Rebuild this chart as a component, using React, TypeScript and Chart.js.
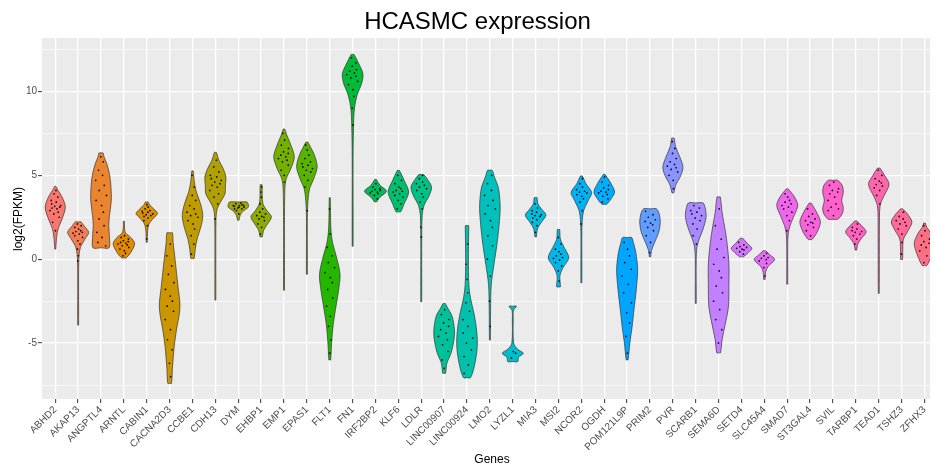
import React, { useEffect, useRef } from 'react';
import { Chart, registerables } from 'chart.js';

Chart.register(...registerables);

// ---------------- data ----------------
const genes = [
  'ABHD2', 'AKAP13', 'ANGPTL4', 'ARNTL', 'CABIN1', 'CACNA2D3', 'CCBE1', 'CDH13', 'DYM', 'EHBP1',
  'EMP1', 'EPAS1', 'FLT1', 'FN1', 'IRF2BP2', 'KLF6', 'LDLR', 'LINC00907', 'LINC00924', 'LMO2',
  'LYZL1', 'MIA3', 'MSI2', 'NCOR2', 'OGDH', 'POM121L9P', 'PRIM2', 'PVR', 'SCARB1', 'SEMA6D',
  'SETD4', 'SLC45A4', 'SMAD7', 'ST3GAL4', 'SVIL', 'TARBP1', 'TEAD1', 'TSHZ3', 'ZFHX3',
];

// violin outline per gene: [log2(FPKM) level, half-width in category units], bottom to top
const violinShapes: number[][][] = [
  [[0.6, 0.02], [1.2, 0.05], [1.8, 0.12], [2.4, 0.3], [3.1, 0.44], [3.7, 0.3], [4.1, 0.12], [4.35, 0.02]],
  [[-3.93, 0.02], [-2, 0.02], [0, 0.03], [0.7, 0.1], [1.2, 0.3], [1.6, 0.46], [2.0, 0.25], [2.22, 0.13]],
  [[0.68, 0.35], [1.3, 0.37], [2.0, 0.34], [2.6, 0.37], [3.5, 0.45], [4.2, 0.44], [5.0, 0.38], [5.7, 0.25], [6.1, 0.13], [6.33, 0.09]],
  [[0.08, 0.1], [0.4, 0.3], [0.93, 0.47], [1.3, 0.3], [1.55, 0.08], [1.8, 0.03], [2.26, 0.02]],
  [[1.0, 0.02], [1.7, 0.04], [2.1, 0.1], [2.45, 0.3], [2.72, 0.47], [3.0, 0.3], [3.25, 0.12], [3.41, 0.06]],
  [[-7.4, 0.08], [-6.5, 0.12], [-5.2, 0.2], [-4.2, 0.3], [-3.2, 0.43], [-2.6, 0.45], [-1.8, 0.38], [-0.8, 0.3], [0.2, 0.22], [1.0, 0.15], [1.57, 0.12]],
  [[0.04, 0.07], [0.6, 0.12], [1.2, 0.2], [1.9, 0.36], [2.6, 0.45], [3.3, 0.35], [4.0, 0.17], [4.6, 0.08], [5.26, 0.03]],
  [[-2.44, 0.02], [0, 0.02], [2.5, 0.03], [3.0, 0.08], [3.4, 0.22], [3.9, 0.42], [4.4, 0.44], [4.9, 0.46], [5.4, 0.34], [5.9, 0.15], [6.37, 0.04]],
  [[2.32, 0.03], [2.6, 0.08], [2.85, 0.2], [3.1, 0.44], [3.3, 0.43], [3.41, 0.38]],
  [[1.33, 0.05], [1.7, 0.1], [2.1, 0.28], [2.52, 0.45], [2.9, 0.25], [3.3, 0.08], [3.8, 0.05], [4.44, 0.04]],
  [[-1.85, 0.02], [2, 0.02], [4.3, 0.04], [4.8, 0.1], [5.4, 0.3], [6.1, 0.45], [6.8, 0.3], [7.4, 0.12], [7.76, 0.03]],
  [[-0.9, 0.02], [2.5, 0.02], [3.5, 0.05], [4.2, 0.12], [4.8, 0.3], [5.5, 0.45], [6.2, 0.33], [6.7, 0.15], [6.98, 0.04]],
  [[-6.0, 0.04], [-5.0, 0.08], [-3.9, 0.15], [-3.0, 0.25], [-1.9, 0.38], [-0.9, 0.45], [0.2, 0.28], [1.0, 0.12], [1.8, 0.05], [3.0, 0.03], [3.67, 0.02]],
  [[0.77, 0.02], [6, 0.02], [8.0, 0.04], [9.0, 0.08], [9.8, 0.2], [10.5, 0.4], [11.05, 0.45], [11.7, 0.25], [12.2, 0.06]],
  [[3.41, 0.04], [3.7, 0.2], [4.05, 0.48], [4.4, 0.2], [4.76, 0.03]],
  [[2.82, 0.1], [3.3, 0.25], [4.0, 0.45], [4.7, 0.25], [5.3, 0.04]],
  [[-2.54, 0.02], [1, 0.02], [2.6, 0.04], [3.2, 0.12], [3.8, 0.35], [4.3, 0.45], [4.8, 0.25], [5.04, 0.1]],
  [[-6.8, 0.06], [-6.2, 0.12], [-5.6, 0.3], [-4.8, 0.43], [-4.2, 0.45], [-3.4, 0.35], [-2.9, 0.15], [-2.64, 0.05]],
  [[-7.06, 0.15], [-6.5, 0.3], [-5.5, 0.43], [-4.8, 0.45], [-4.0, 0.4], [-3.2, 0.3], [-2.3, 0.15], [-1.5, 0.08], [0, 0.06], [1.5, 0.07], [2.0, 0.07]],
  [[-4.82, 0.02], [-3, 0.03], [-1.5, 0.06], [-0.3, 0.18], [0.8, 0.3], [2.0, 0.4], [3.1, 0.45], [4.2, 0.38], [4.9, 0.2], [5.3, 0.1]],
  [[-6.1, 0.22], [-5.85, 0.25], [-5.6, 0.46], [-5.35, 0.2], [-5.0, 0.04], [-3.5, 0.02], [-3.05, 0.03], [-2.8, 0.16]],
  [[1.33, 0.03], [1.8, 0.08], [2.2, 0.25], [2.62, 0.45], [3.0, 0.25], [3.3, 0.1], [3.67, 0.06]],
  [[-1.65, 0.08], [-1.0, 0.06], [-0.5, 0.2], [0.08, 0.45], [0.7, 0.25], [1.2, 0.08], [1.77, 0.05]],
  [[-1.41, 0.02], [1.5, 0.02], [2.3, 0.04], [2.9, 0.1], [3.5, 0.3], [3.97, 0.45], [4.5, 0.2], [4.96, 0.04]],
  [[3.27, 0.1], [3.6, 0.3], [4.0, 0.45], [4.5, 0.3], [5.06, 0.03]],
  [[-6.0, 0.04], [-5.0, 0.12], [-4.0, 0.22], [-3.0, 0.3], [-1.8, 0.4], [-0.6, 0.46], [0.4, 0.38], [1.0, 0.27], [1.29, 0.2]],
  [[0.14, 0.03], [0.5, 0.06], [1.0, 0.2], [1.6, 0.38], [2.2, 0.45], [2.7, 0.4], [3.0, 0.28]],
  [[3.95, 0.04], [4.4, 0.12], [5.0, 0.35], [5.5, 0.44], [6.1, 0.3], [6.7, 0.12], [7.22, 0.05]],
  [[-2.64, 0.02], [0, 0.02], [0.7, 0.05], [1.2, 0.15], [1.8, 0.32], [2.5, 0.45], [3.0, 0.42], [3.35, 0.32]],
  [[-5.58, 0.08], [-4.8, 0.15], [-3.8, 0.3], [-2.8, 0.43], [-1.5, 0.45], [-0.3, 0.45], [0.8, 0.38], [1.7, 0.29], [2.8, 0.15], [3.71, 0.07]],
  [[0.14, 0.08], [0.4, 0.3], [0.64, 0.45], [0.95, 0.25], [1.25, 0.05]],
  [[-1.21, 0.03], [-0.8, 0.05], [-0.45, 0.15], [-0.02, 0.45], [0.25, 0.25], [0.5, 0.05]],
  [[-1.49, 0.02], [0.5, 0.02], [1.5, 0.04], [2.0, 0.12], [2.6, 0.3], [3.21, 0.46], [3.7, 0.32], [4.19, 0.04]],
  [[1.17, 0.08], [1.6, 0.3], [2.22, 0.45], [2.8, 0.28], [3.35, 0.04]],
  [[2.38, 0.2], [2.7, 0.4], [3.05, 0.45], [3.5, 0.38], [4.0, 0.45], [4.4, 0.4], [4.7, 0.2]],
  [[0.54, 0.03], [0.9, 0.08], [1.25, 0.25], [1.63, 0.45], [2.0, 0.25], [2.28, 0.04]],
  [[-2.04, 0.02], [2.5, 0.03], [3.2, 0.06], [3.7, 0.2], [4.46, 0.45], [5.0, 0.25], [5.43, 0.05]],
  [[-0.02, 0.04], [0.6, 0.05], [1.2, 0.08], [1.7, 0.28], [2.22, 0.45], [2.7, 0.25], [3.0, 0.04]],
  [[-0.38, 0.1], [0.2, 0.3], [0.93, 0.45], [1.5, 0.3], [1.9, 0.1], [2.16, 0.03]],
];

// individual samples per gene (log2 FPKM)
const sampleValues: number[][] = [
  [1.7, 2.2, 2.5, 2.7, 2.8, 2.9, 3.0, 3.05, 3.1, 3.15, 3.2, 3.3, 3.4, 3.5, 3.7, 3.9, 4.1],
  [-0.1, 0.2, 0.6, 0.9, 1.1, 1.3, 1.4, 1.5, 1.55, 1.6, 1.65, 1.7, 1.8, 1.9, 2.0, 2.1],
  [0.8, 1.0, 1.3, 1.6, 2.0, 2.4, 2.8, 3.2, 3.5, 3.8, 4.1, 4.4, 4.7, 5.0, 5.3, 5.8, 6.1],
  [0.2, 0.35, 0.5, 0.6, 0.7, 0.8, 0.85, 0.9, 0.95, 1.0, 1.05, 1.1, 1.2, 1.3, 1.4],
  [1.2, 2.0, 2.3, 2.45, 2.55, 2.6, 2.65, 2.7, 2.75, 2.8, 2.85, 2.9, 3.0, 3.1, 3.25],
  [-7.0, -6.2, -5.4, -4.8, -4.2, -3.6, -3.1, -2.8, -2.5, -2.2, -1.8, -1.4, -0.9, -0.4, 0.2, 0.9],
  [0.3, 0.9, 1.4, 1.8, 2.1, 2.3, 2.5, 2.6, 2.7, 2.8, 3.0, 3.2, 3.5, 3.8, 4.3, 5.0],
  [2.4, 3.3, 3.7, 3.9, 4.1, 4.3, 4.4, 4.5, 4.6, 4.7, 4.8, 4.9, 5.0, 5.2, 5.5, 5.9],
  [2.7, 2.9, 3.0, 3.05, 3.1, 3.15, 3.2, 3.2, 3.25, 3.3, 3.35, 3.1, 3.0, 3.2],
  [1.5, 1.9, 2.1, 2.3, 2.4, 2.5, 2.55, 2.6, 2.7, 2.8, 3.0, 3.3, 3.7, 4.0, 4.3],
  [4.6, 5.0, 5.3, 5.6, 5.8, 5.9, 6.0, 6.1, 6.2, 6.3, 6.4, 6.6, 6.8, 7.1, 7.5],
  [2.9, 4.3, 4.7, 5.0, 5.2, 5.3, 5.4, 5.5, 5.6, 5.7, 5.8, 6.0, 6.2, 6.5, 6.8],
  [-5.6, -4.8, -4.0, -3.4, -2.8, -2.3, -1.8, -1.4, -1.1, -0.8, -0.5, -0.2, 0.2, 0.7, 1.5, 3.0],
  [8.0, 9.0, 9.7, 10.1, 10.4, 10.6, 10.8, 10.9, 11.0, 11.1, 11.2, 11.3, 11.5, 11.7, 12.0],
  [3.6, 3.8, 3.9, 3.95, 4.0, 4.05, 4.1, 4.15, 4.2, 4.3, 4.5],
  [3.0, 3.3, 3.5, 3.7, 3.8, 3.9, 4.0, 4.05, 4.1, 4.2, 4.3, 4.5, 4.7, 5.0],
  [1.33, 1.9, 3.0, 3.4, 3.7, 3.9, 4.1, 4.2, 4.3, 4.4, 4.5, 4.6, 4.8, 5.0],
  [-6.5, -6.0, -5.5, -5.1, -4.8, -4.6, -4.4, -4.2, -4.0, -3.8, -3.6, -3.3, -3.0],
  [-6.8, -6.3, -5.8, -5.4, -5.0, -4.7, -4.4, -4.0, -3.6, -3.1, -2.6, -2.0, -1.2, -0.3, 0.9],
  [-4.0, -2.5, -1.0, 0.0, 0.8, 1.4, 1.9, 2.3, 2.7, 3.0, 3.2, 3.5, 3.8, 4.1, 4.5, 5.0],
  [-5.9, -5.6, -5.5],
  [1.6, 2.0, 2.2, 2.35, 2.45, 2.55, 2.6, 2.65, 2.7, 2.8, 2.9, 3.05, 3.3],
  [-1.3, -0.7, -0.4, -0.2, -0.05, 0.05, 0.1, 0.2, 0.3, 0.45, 0.6, 0.9, 1.3],
  [2.1, 2.9, 3.4, 3.6, 3.75, 3.85, 3.95, 4.0, 4.05, 4.15, 4.3, 4.5, 4.8],
  [3.4, 3.6, 3.75, 3.85, 3.95, 4.0, 4.05, 4.15, 4.25, 4.4, 4.6, 4.9],
  [-5.6, -4.6, -3.8, -3.2, -2.6, -2.0, -1.5, -1.0, -0.6, -0.2, 0.2, 0.6, 1.0],
  [0.4, 1.0, 1.4, 1.7, 1.9, 2.05, 2.15, 2.25, 2.35, 2.5, 2.65, 2.85],
  [4.2, 4.7, 5.0, 5.2, 5.35, 5.45, 5.55, 5.65, 5.8, 6.0, 6.3, 6.6, 7.0],
  [0.9, 1.4, 1.8, 2.1, 2.3, 2.45, 2.6, 2.7, 2.8, 2.9, 3.05, 3.2],
  [-5.0, -4.2, -3.6, -3.0, -2.5, -2.0, -1.6, -1.1, -0.7, -0.3, 0.1, 0.6, 1.2, 2.0, 3.0],
  [0.3, 0.45, 0.55, 0.6, 0.65, 0.7, 0.75, 0.85, 1.0],
  [-1.0, -0.5, -0.25, -0.1, -0.02, 0.05, 0.1, 0.2, 0.35],
  [1.7, 2.3, 2.6, 2.8, 3.0, 3.1, 3.2, 3.3, 3.4, 3.5, 3.7, 3.9],
  [1.4, 1.7, 1.9, 2.05, 2.15, 2.2, 2.3, 2.4, 2.55, 2.7, 3.0],
  [2.6, 2.9, 3.0, 3.1, 3.3, 3.5, 3.7, 3.9, 4.0, 4.1, 4.2, 4.4, 4.6],
  [0.9, 1.2, 1.4, 1.5, 1.6, 1.65, 1.7, 1.8, 1.9, 2.1],
  [3.3, 3.8, 4.1, 4.25, 4.35, 4.45, 4.55, 4.65, 4.8, 5.0, 5.3],
  [0.3, 1.0, 1.5, 1.8, 2.0, 2.1, 2.2, 2.3, 2.4, 2.55, 2.8],
  [-0.2, 0.2, 0.5, 0.7, 0.85, 0.95, 1.05, 1.2, 1.4, 1.7, 2.0],
];

const yGridValues = [-7.5, -5, -2.5, 0, 2.5, 5, 7.5, 10, 12.5];
const yLabelValues = [-5, 0, 5, 10];
const chartTitle = 'HCASMC expression';
const xAxisTitle = 'Genes';
const yAxisTitle = 'log2(FPKM)';

// ---------------- styling helpers ----------------
const FONT = '"Liberation Sans", Arial, Helvetica, sans-serif';
const jitterPattern = [0.1, -0.8, 0.9, -0.3, 0.55, -0.95, 0.3, -0.55, 0.75, -0.1, 0.95, -0.65, 0.2, -0.85, 0.65, -0.4, 0.45];

function hcl(h: number, c: number, l: number): string {
  const hr = (h * Math.PI) / 180;
  const U = c * Math.cos(hr);
  const V = c * Math.sin(hr);
  const Xn = 95.047, Yn = 100, Zn = 108.883;
  const Y = l > 8 ? Yn * Math.pow((l + 16) / 116, 3) : (Yn * l) / 903.3;
  const den = Xn + 15 * Yn + 3 * Zn;
  const un = (4 * Xn) / den, vn = (9 * Yn) / den;
  const u = U / (13 * l) + un;
  const v = V / (13 * l) + vn;
  const X = (9 * Y * u) / (4 * v);
  const Z = (Y * (12 - 3 * u - 20 * v)) / (4 * v);
  const x = X / 100, y = Y / 100, z = Z / 100;
  const lin = [
    3.240479 * x - 1.53715 * y - 0.498535 * z,
    -0.969256 * x + 1.875992 * y + 0.041556 * z,
    0.055648 * x - 0.204043 * y + 1.057311 * z,
  ];
  const hex = lin
    .map((t) => {
      let s = t <= 0.0031308 ? 12.92 * t : 1.055 * Math.pow(t, 1 / 2.4) - 0.055;
      s = Math.max(0, Math.min(1, s));
      return Math.round(s * 255).toString(16).padStart(2, '0');
    })
    .join('');
  return '#' + hex;
}

const colors = genes.map((_, i) => hcl(15 + (i * 360) / genes.length, 100, 65));

function halfWidthAt(profile: number[][], y: number): number {
  if (y <= profile[0][0]) return profile[0][1];
  for (let k = 1; k < profile.length; k++) {
    if (y <= profile[k][0]) {
      const [y0, w0] = profile[k - 1];
      const [y1, w1] = profile[k];
      const t = (y - y0) / (y1 - y0);
      return w0 + t * (w1 - w0);
    }
  }
  return profile[profile.length - 1][1];
}

export default function App() {
  const canvasRef = useRef<HTMLCanvasElement | null>(null);

  useEffect(() => {
    if (!canvasRef.current) return;

    const violinDatasets = genes.map((g, i) => {
      const prof = violinShapes[i];
      const bottom = prof[0][0];
      const top = prof[prof.length - 1][0];
      const right = prof.map(([y, w]) => ({ x: i + w, y }));
      const left = prof.slice().reverse().map(([y, w]) => ({ x: i - w, y }));
      const pts = [{ x: i, y: bottom }, ...right, { x: i, y: top }, ...left, { x: i, y: bottom }];
      return {
        type: 'line' as const,
        label: g,
        data: pts,
        borderColor: '#333333',
        borderWidth: 0.7,
        backgroundColor: colors[i],
        fill: 'shape' as any,
        tension: 0.3,
        pointRadius: 0,
        pointHoverRadius: 0,
        order: 2,
      };
    });

    const dots: { x: number; y: number }[] = [];
    sampleValues.forEach((vals, i) => {
      vals.forEach((v, k) => {
        const w = halfWidthAt(violinShapes[i], v);
        const j = jitterPattern[(k + i * 5) % jitterPattern.length];
        dots.push({ x: i + j * w * 0.6, y: v });
      });
    });

    const dotDataset = {
      type: 'scatter' as const,
      label: 'samples',
      data: dots,
      pointRadius: 0.85,
      pointBorderWidth: 0,
      pointBackgroundColor: '#000000',
      backgroundColor: '#000000',
      borderColor: '#000000',
      showLine: false,
      order: 0,
    };

    const decorPlugin = {
      id: 'decor',
      beforeDraw(chart: any) {
        const { ctx, chartArea } = chart;
        ctx.save();
        ctx.fillStyle = '#FFFFFF';
        ctx.fillRect(0, 0, chart.width, chart.height);
        ctx.fillStyle = '#EBEBEB';
        ctx.fillRect(chartArea.left, chartArea.top, chartArea.right - chartArea.left, chartArea.bottom - chartArea.top);
        ctx.restore();
      },
      afterDraw(chart: any) {
        const { ctx } = chart;
        ctx.save();
        ctx.fillStyle = '#000000';
        ctx.textAlign = 'center';
        ctx.textBaseline = 'alphabetic';
        ctx.font = `24px ${FONT}`;
        ctx.fillText(chartTitle, 477.5, 29);
        ctx.font = `12px ${FONT}`;
        ctx.fillText(xAxisTitle, 492, 463);
        ctx.translate(21.5, 219);
        ctx.rotate(-Math.PI / 2);
        ctx.fillText(yAxisTitle, 0, 0);
        ctx.restore();
      },
    };

    const chart = new Chart(canvasRef.current, {
      type: 'line',
      data: { datasets: [dotDataset as any, ...(violinDatasets as any[])] },
      plugins: [decorPlugin],
      options: {
        animation: false,
        responsive: false,
        maintainAspectRatio: false,
        events: [],
        layout: { padding: { top: 38, left: 0, right: 0, bottom: 0 } },
        plugins: {
          legend: { display: false },
          tooltip: { enabled: false },
          title: { display: false },
        },
        scales: {
          x: {
            type: 'linear',
            min: -0.58,
            max: 38.24,
            border: { display: false },
            grid: {
              color: '#FFFFFF',
              lineWidth: 1.3,
              drawTicks: true,
              tickLength: 4,
              tickColor: '#333333',
              tickWidth: 1,
            },
            ticks: {
              autoSkip: false,
              minRotation: 45,
              maxRotation: 45,
              padding: 1,
              color: '#4D4D4D',
              font: { family: FONT, size: 10 },
              callback: (v: any) => genes[Math.round(Number(v))] ?? '',
            },
            afterBuildTicks: (scale: any) => {
              scale.ticks = genes.map((_, i) => ({ value: i }));
            },
            afterFit: (scale: any) => {
              scale.height = 67;
              scale.paddingLeft = 0;
              scale.paddingRight = 0;
            },
          },
          y: {
            type: 'linear',
            min: -8.33,
            max: 13.18,
            border: { display: false },
            grid: {
              color: '#FFFFFF',
              lineWidth: (ctx: any) => (yLabelValues.includes(ctx.tick?.value) ? 1.3 : 0.6),
              drawTicks: true,
              tickLength: 4,
              tickColor: (ctx: any) => (yLabelValues.includes(ctx.tick?.value) ? '#333333' : 'rgba(0,0,0,0)'),
              tickWidth: 1,
            },
            ticks: {
              padding: 1,
              color: '#4D4D4D',
              font: { family: FONT, size: 10 },
              callback: (v: any) => (yLabelValues.includes(Number(v)) ? String(v) : ''),
            },
            afterBuildTicks: (scale: any) => {
              scale.ticks = yGridValues.map((v) => ({ value: v }));
            },
            afterFit: (scale: any) => {
              scale.width = 42;
              scale.paddingTop = 0;
              scale.paddingBottom = 0;
            },
          },
        },
      } as any,
    });

    return () => chart.destroy();
  }, []);

  return (
    <div style={{ position: 'absolute', left: 0, top: 0, width: 934, height: 466, background: '#fff' }}>
      <canvas ref={canvasRef} width={934} height={466} style={{ width: 934, height: 466, display: 'block' }} />
    </div>
  );
}
